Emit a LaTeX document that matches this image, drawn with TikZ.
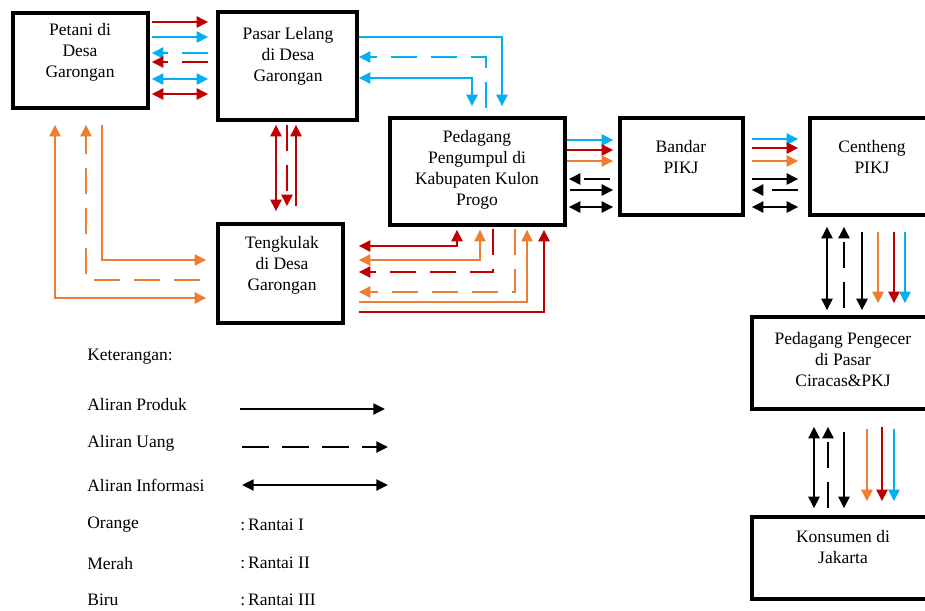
\documentclass[tikz,border=0pt]{standalone}
\usepackage{fontspec}
\setmainfont{Liberation Serif}
\usepackage{xcolor}
\usetikzlibrary{arrows.meta,positioning,fit}
\definecolor{oranye}{HTML}{ED7D31}
\definecolor{merah}{HTML}{C00000}
\definecolor{biru}{HTML}{00B0F0}
\newcommand{\boxfont}{\fontsize{10.5}{12.6}\selectfont}

\begin{document}
\begin{tikzpicture}[x=0.6pt,y=-0.6pt,
  every node/.style={font=\boxfont},
  box/.style={draw,line width=2pt,inner sep=0pt},
  txt/.style={align=center,inner sep=0pt},
  leg/.style={anchor=west,inner sep=0pt},
  fl/.style={line width=1.6pt},
  prod/.style={fl,-{Triangle[length=7pt,width=6.5pt]}},
  money/.style={prod,dash pattern=on 16pt off 8pt},
  info/.style={fl,{Triangle[length=7pt,width=6.5pt]}-{Triangle[length=7pt,width=6.5pt]}},
  sh/.style 2 args={shorten <=#1*0.6pt,shorten >=#2*0.6pt}]
\useasboundingbox (0,0) rectangle (925,610);

% boxes
\node[box,fit={(13,13) (148,108)}] (petani) {};
\node[box,fit={(218,12) (357,120)}] (pasar) {};
\node[box,fit={(390,118) (565,225)}] (pengumpul) {};
\node[box,fit={(620,118) (743,215)}] (bandar) {};
\node[box,fit={(810,118) (945,215)}] (centheng) {};
\node[box,fit={(218,224) (343,323)}] (tengkulak) {};
\node[box,fit={(752,317) (945,409)}] (pengecer) {};
\node[box,fit={(752,517) (945,599)}] (konsumen) {};

\node[txt] (petani-t) at (80,52) {Petani di\\Desa\\Garongan};
\node[txt] (pasar-t) at (288,56) {Pasar Lelang\\di Desa\\Garongan};
\node[txt] (pengumpul-t) at (477,170) {Pedagang\\Pengumpul di\\Kabupaten Kulon\\Progo};
\node[txt] (bandar-t) at (681,157) {Bandar\\PIKJ};
\node[txt] (centheng-t) at (872,157) {Centheng\\PIKJ};
\node[txt] (tengkulak-t) at (282,265) {Tengkulak\\di Desa\\Garongan};
\node[txt] (pengecer-t) at (843,360) {Pedagang Pengecer\\di Pasar\\Ciracas\&PKJ};
\node[txt] (konsumen-t) at (843,547) {Konsumen di\\Jakarta};

% petani - pasar lelang
\draw[prod,merah,sh={2}{8}] (petani.east |- 0,22) -- (pasar.west |- 0,22);
\draw[prod,biru,sh={2}{8}] (petani.east |- 0,37) -- (pasar.west |- 0,37);
\draw[money,biru,sh={8}{2}] (pasar.west |- 0,53) -- (petani.east |- 0,53);
\draw[money,merah,sh={8}{2}] (pasar.west |- 0,62) -- (petani.east |- 0,62);
\draw[info,biru,sh={2}{8}] (petani.east |- 0,79) -- (pasar.west |- 0,79);
\draw[info,merah,sh={2}{8}] (petani.east |- 0,94) -- (pasar.west |- 0,94);

% pasar lelang - pengumpul
\draw[prod,biru,sh={0}{10}] (pasar.east |- 0,37) -| (502,0 |- pengumpul.north);
\draw[money,biru,sh={8}{0}] (486,0 |- pengumpul.north) |- (pasar.east |- 0,57);
\draw[info,biru,sh={0}{10}] (pasar.east |- 0,78) -| (472,0 |- pengumpul.north);

% pasar lelang - tengkulak
\draw[info,merah,sh={3}{11}] (276,0 |- pasar.south) -- (276,0 |- tengkulak.north);
\draw[money,merah,sh={3}{16}] (287,0 |- pasar.south) -- (287,0 |- tengkulak.north);
\draw[prod,merah,sh={16}{3}] (296,0 |- tengkulak.north) -- (296,0 |- pasar.south);

% petani - tengkulak
\draw[info,oranye,sh={15}{10}] (55,0 |- petani.south) |- (tengkulak.west |- 0,298);
\draw[money,oranye,sh={16}{15}] (tengkulak.west |- 0,280) -| (86,0 |- petani.south);
\draw[prod,oranye,sh={15}{10}] (102,0 |- petani.south) |- (tengkulak.west |- 0,260);

% pengumpul - tengkulak
\draw[info,merah,sh={3}{14}] (457,0 |- pengumpul.south) |- (tengkulak.east |- 0,246);
\draw[info,oranye,sh={3}{14}] (480,0 |- pengumpul.south) |- (tengkulak.east |- 0,260);
\draw[money,merah,sh={2}{14}] (493,0 |- pengumpul.south) |- (tengkulak.east |- 0,272);
\draw[money,oranye,sh={2}{14}] (515,0 |- pengumpul.south) |- (tengkulak.east |- 0,292);
\draw[prod,oranye,sh={14}{3}] (tengkulak.east |- 0,302) -| (527,0 |- pengumpul.south);
\draw[prod,merah,sh={14}{3}] (tengkulak.east |- 0,312) -| (544,0 |- pengumpul.south);

% pengumpul - bandar
\draw[prod,biru,sh={0}{5}] (pengumpul.east |- 0,140) -- (bandar.west |- 0,140);
\draw[prod,merah,sh={0}{5}] (pengumpul.east |- 0,150) -- (bandar.west |- 0,150);
\draw[prod,oranye,sh={0}{5}] (pengumpul.east |- 0,161) -- (bandar.west |- 0,161);
\draw[money,sh={8}{2}] (bandar.west |- 0,179) -- (pengumpul.east |- 0,179);
\draw[prod,sh={3}{5}] (pengumpul.east |- 0,190) -- (bandar.west |- 0,190);
\draw[info,sh={2}{5}] (pengumpul.east |- 0,207) -- (bandar.west |- 0,207);

% bandar - centheng
\draw[prod,biru,sh={7}{10}] (bandar.east |- 0,139) -- (centheng.west |- 0,139);
\draw[prod,merah,sh={7}{10}] (bandar.east |- 0,148) -- (centheng.west |- 0,148);
\draw[prod,oranye,sh={7}{10}] (bandar.east |- 0,161) -- (centheng.west |- 0,161);
\draw[prod,sh={7}{10}] (bandar.east |- 0,179) -- (centheng.west |- 0,179);
\draw[money,sh={10}{7}] (centheng.west |- 0,190) -- (bandar.east |- 0,190);
\draw[info,sh={7}{10}] (bandar.east |- 0,207) -- (centheng.west |- 0,207);

% centheng - pengecer
\draw[info,sh={10}{5}] (827,0 |- centheng.south) -- (827,0 |- pengecer.north);
\draw[money,sh={7}{10}] (844,0 |- pengecer.north) -- (844,0 |- centheng.south);
\draw[prod,sh={15}{5}] (862,0 |- centheng.south) -- (862,0 |- pengecer.north);
\draw[prod,oranye,sh={15}{12}] (878,0 |- centheng.south) -- (878,0 |- pengecer.north);
\draw[prod,merah,sh={15}{12}] (894,0 |- centheng.south) -- (894,0 |- pengecer.north);
\draw[prod,biru,sh={15}{12}] (905,0 |- centheng.south) -- (905,0 |- pengecer.north);

% pengecer - konsumen
\draw[info,sh={16}{7}] (814,0 |- pengecer.south) -- (814,0 |- konsumen.north);
\draw[money,sh={7}{16}] (828,0 |- konsumen.north) -- (828,0 |- pengecer.south);
\draw[prod,sh={21}{7}] (844,0 |- pengecer.south) -- (844,0 |- konsumen.north);
\draw[prod,oranye,sh={18}{14}] (867,0 |- pengecer.south) -- (867,0 |- konsumen.north);
\draw[prod,merah,sh={16}{14}] (882,0 |- pengecer.south) -- (882,0 |- konsumen.north);
\draw[prod,biru,sh={18}{14}] (894,0 |- pengecer.south) -- (894,0 |- konsumen.north);

% keterangan
\node[leg] (ket) at (87,357) {Keterangan:};
\node[leg] (produk) at (87,405) {Aliran Produk};
\node[leg] (uang) at (87,443) {Aliran Uang};
\node[leg] (informasi) at (87,485) {Aliran Informasi};
\node[leg] (orange) at (87,525) {Orange};
\node[leg] (merah-l) at (87,563) {Merah};
\node[leg] (biru-l) at (87,600) {Biru};
\node[leg] (rantai1) at (240,525) {:\,Rantai I};
\node[leg] (rantai2) at (240,563) {:\,Rantai II};
\node[leg] (rantai3) at (240,600) {:\,Rantai III};
\coordinate (p-a) at (240,409); \coordinate (p-b) at (385,409);
\coordinate (u-a) at (242,447); \coordinate (u-b) at (388,447);
\coordinate (i-a) at (242,485); \coordinate (i-b) at (388,485);
\draw[prod] (p-a) -- (p-b);
\draw[money] (u-a) -- (u-b);
\draw[info] (i-a) -- (i-b);
\end{tikzpicture}
\end{document}
